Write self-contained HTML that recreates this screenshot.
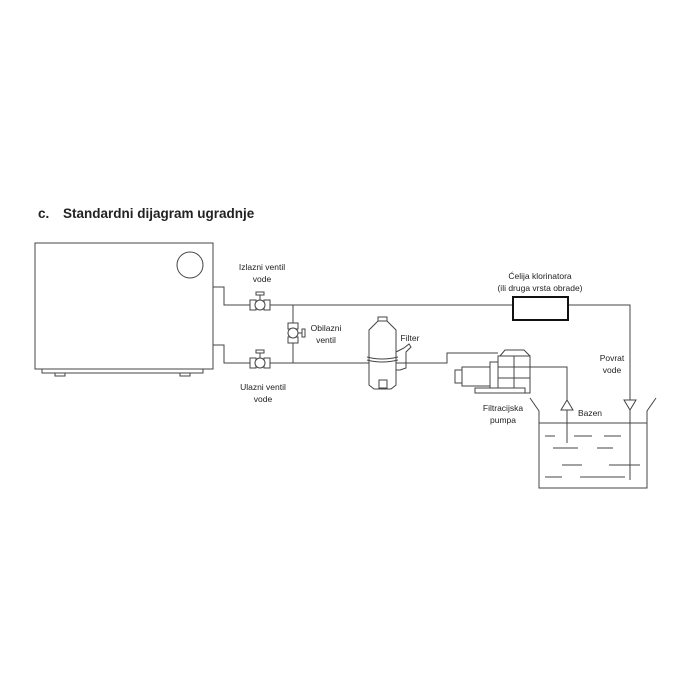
<!DOCTYPE html>
<html><head><meta charset="utf-8"><style>
html,body{margin:0;padding:0;background:#fff;}
svg{display:block}
text{font-family:"Liberation Sans",sans-serif;fill:#222}
</style></head><body>
<svg width="690" height="690" viewBox="0 0 690 690" xmlns="http://www.w3.org/2000/svg">
<text x="38" y="218" font-size="13.5" font-weight="bold">c.</text>
<text x="63" y="218" font-size="13.5" font-weight="bold">Standardni dijagram ugradnje</text>
<g fill="none" stroke="#444" stroke-width="1">
<rect x="35" y="243" width="178" height="126"/>
<rect x="42" y="369" width="161" height="4"/>
<rect x="55" y="373" width="10" height="3"/>
<rect x="180" y="373" width="10" height="3"/>
<circle cx="190" cy="265" r="13"/>
<polyline points="213,287 224,287 224,305 630,305 630,480"/>
<polyline points="213,345 224,345 224,363 447,363 447,353 498,353"/>
<line x1="293" y1="305" x2="293" y2="363"/>
<polyline points="530,367 567,367 567,443"/>
<g>
<rect x="250" y="300" width="6" height="10" fill="#fff"/><rect x="264" y="300" width="6" height="10" fill="#fff"/>
<circle cx="260" cy="305" r="5" fill="#fff"/><line x1="260" y1="300" x2="260" y2="295"/><rect x="256" y="292" width="8" height="3" fill="#fff"/>
</g>
<g>
<rect x="250" y="358" width="6" height="10" fill="#fff"/><rect x="264" y="358" width="6" height="10" fill="#fff"/>
<circle cx="260" cy="363" r="5" fill="#fff"/><line x1="260" y1="358" x2="260" y2="353"/><rect x="256" y="350" width="8" height="3" fill="#fff"/>
</g>
<g>
<rect x="288" y="323" width="10" height="6" fill="#fff"/><rect x="288" y="337" width="10" height="6" fill="#fff"/>
<circle cx="293" cy="333" r="5" fill="#fff"/><line x1="298" y1="333" x2="302" y2="333"/><rect x="302" y="329" width="3" height="8" fill="#fff"/>
</g>
<rect x="513" y="297" width="55" height="23" stroke="#111" stroke-width="2" fill="#fff"/>
<path d="M369,385 L369,330 L378,321 L387,321 L396,330 L396,385 L391,389 L374,389 Z" fill="#fff"/>
<rect x="378" y="317" width="9" height="4" fill="#fff"/>
<rect x="379" y="380" width="8" height="8" fill="#fff"/>
<path d="M367,357 Q382,361 398,357"/><path d="M367,360 Q382,364 398,360"/>
<path d="M396,352 L404,348 L409,344 L411,347 L406,352 L406,368 L400,370 L396,370"/>
<line x1="406" y1="363" x2="396" y2="363"/>
<rect x="498" y="356" width="32" height="37" fill="#fff"/>
<path d="M500,356 L505,350 L524,350 L530,356"/>
<line x1="498" y1="367" x2="530" y2="367"/><line x1="498" y1="378" x2="530" y2="378"/>
<line x1="514" y1="356" x2="514" y2="393"/>
<rect x="490" y="362" width="8" height="26" fill="#fff"/>
<rect x="462" y="367" width="28" height="19" fill="#fff"/>
<rect x="455" y="370" width="7" height="13" fill="#fff"/>
<rect x="475" y="388" width="50" height="5" fill="#fff"/>
<polyline points="530,398 539,411 539,488 647,488 647,411 656,398"/>
<line x1="539" y1="423" x2="647" y2="423"/>
<path d="M567,400 L561,410 L573,410 Z" fill="#fff"/>
<path d="M624,400 L636,400 L630,410 Z" fill="#fff"/>
<line x1="545" y1="436" x2="555" y2="436"/><line x1="574" y1="436" x2="592" y2="436"/><line x1="604" y1="436" x2="621" y2="436"/>
<line x1="553" y1="448" x2="578" y2="448"/><line x1="597" y1="448" x2="613" y2="448"/>
<line x1="562" y1="465" x2="582" y2="465"/><line x1="609" y1="465" x2="640" y2="465"/>
<line x1="545" y1="477" x2="562" y2="477"/><line x1="580" y1="477" x2="625" y2="477"/>
</g>
<g font-size="8.5" text-anchor="middle">
<text x="262" y="270">Izlazni ventil</text><text x="262" y="282">vode</text>
<text x="263" y="390">Ulazni ventil</text><text x="263" y="402">vode</text>
<text x="326" y="331">Obilazni</text><text x="326" y="343">ventil</text>
<text x="410" y="341">Filter</text>
<text x="540" y="279">Ćelija klorinatora</text><text x="540" y="291">(ili druga vrsta obrade)</text>
<text x="612" y="361">Povrat</text><text x="612" y="373">vode</text>
<text x="503" y="411">Filtracijska</text><text x="503" y="423">pumpa</text>
<text x="590" y="416">Bazen</text>
</g>
</svg>
</body></html>
